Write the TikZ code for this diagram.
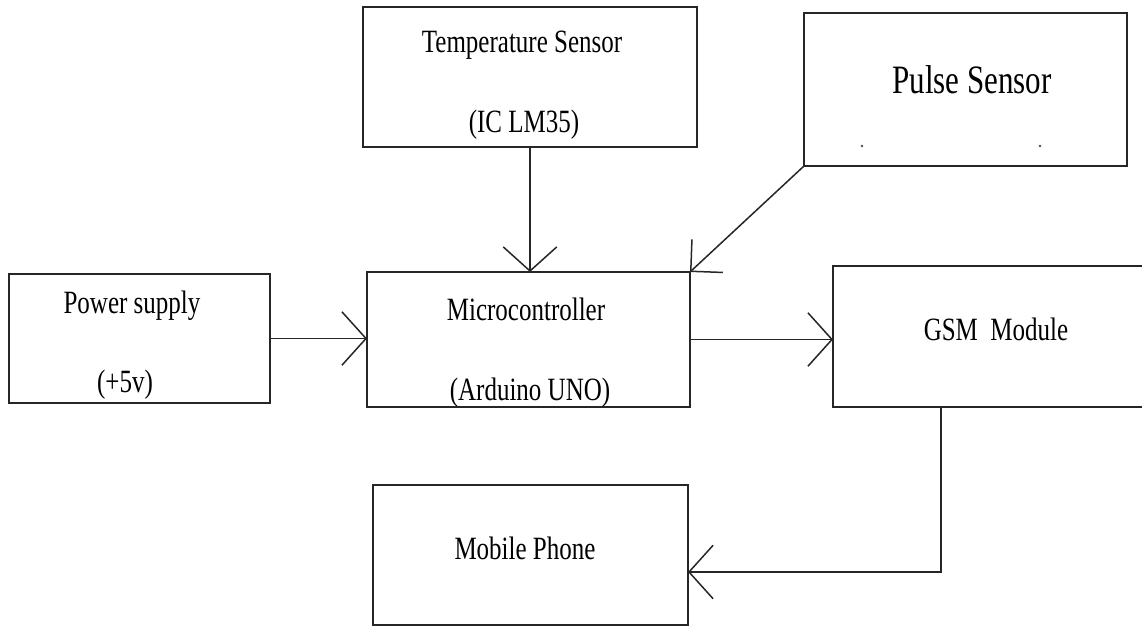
\documentclass[tikz,border=0pt]{standalone}
\usepackage{fontspec}
\setmainfont{Liberation Serif}
\usetikzlibrary{arrows.meta, calc}

\newcommand{\tallt}[1]{\scalebox{1}[1.3]{#1}}

\begin{document}
\begin{tikzpicture}[
    x=1pt, y=-1pt,
    box/.style  = {draw=black!85, line width=1.6pt, inner sep=0pt, outer sep=0pt},
    txt/.style  = {font=\fontsize{25}{30}\selectfont, anchor=base, inner sep=0pt},
    big/.style  = {txt, font=\fontsize{31}{36}\selectfont},
    arr/.style  = {draw=black!85, line width=1.5pt, -{Straight Barb[angle=96:36pt]}},
    wide/.style = {draw=black!85, line width=1.5pt, -{Straight Barb[angle=90:32pt]}}
  ]
  \useasboundingbox (0,0) rectangle (1142,627);

  % --- blocks ---
  \node[box, minimum width=334, minimum height=140] (temp)   at (530,77)      {};
  \node[box, minimum width=323, minimum height=153] (pulse)  at (965.5,89.5)  {};
  \node[box, minimum width=261, minimum height=129] (power)  at (139.5,338.5) {};
  \node[box, minimum width=323, minimum height=135] (micro)  at (528.5,339.5) {};
  \node[box, minimum width=317, minimum height=141] (gsm)    at (991.5,336.5) {};
  \node[box, minimum width=315, minimum height=140] (mobile) at (530.5,555)   {};

  % --- texts ---
  \node[txt] (temptxt)  at (522,52)  {\tallt{Temperature Sensor}};
  \node[txt] (tempic)   at (524,132) {\tallt{(IC LM35)}};
  \node[big] (pulsetxt) at (972,93)  {\tallt{Pulse Sensor}};
  \node[txt] (powertxt) at (132,313) {\tallt{Power supply}};
  \node[txt] (powervlt) at (125,392) {\tallt{(+5v)}};
  \node[txt] (microtxt) at (526,320) {\tallt{Microcontroller}};
  \node[txt] (microuno) at (530,400) {\tallt{(Arduino UNO)}};
  \node[txt] (gsmtxt)   at (996,340) {\tallt{GSM\ \ Module}};
  \node[txt] (mobiletxt) at (525,559) {\tallt{Mobile Phone}};

  % stray dots in the pulse block
  \fill[black!70] (862,146) circle (1.3) (1040,146) circle (1.3);

  % --- links ---
  \coordinate (gsmout)  at (941,407);
  \coordinate (phonein) at (688,572);

  \draw[arr]  (temp.south) -- (temp.south |- micro.north);
  \draw[wide] (pulse.south west) -- (micro.north east);
  \draw[arr]  (power.east) -- (power.east -| micro.west);
  \draw[arr]  (micro.east) -- (micro.east -| gsm.west);
  \draw[arr]  (gsmout) |- (phonein);

\end{tikzpicture}
\end{document}
